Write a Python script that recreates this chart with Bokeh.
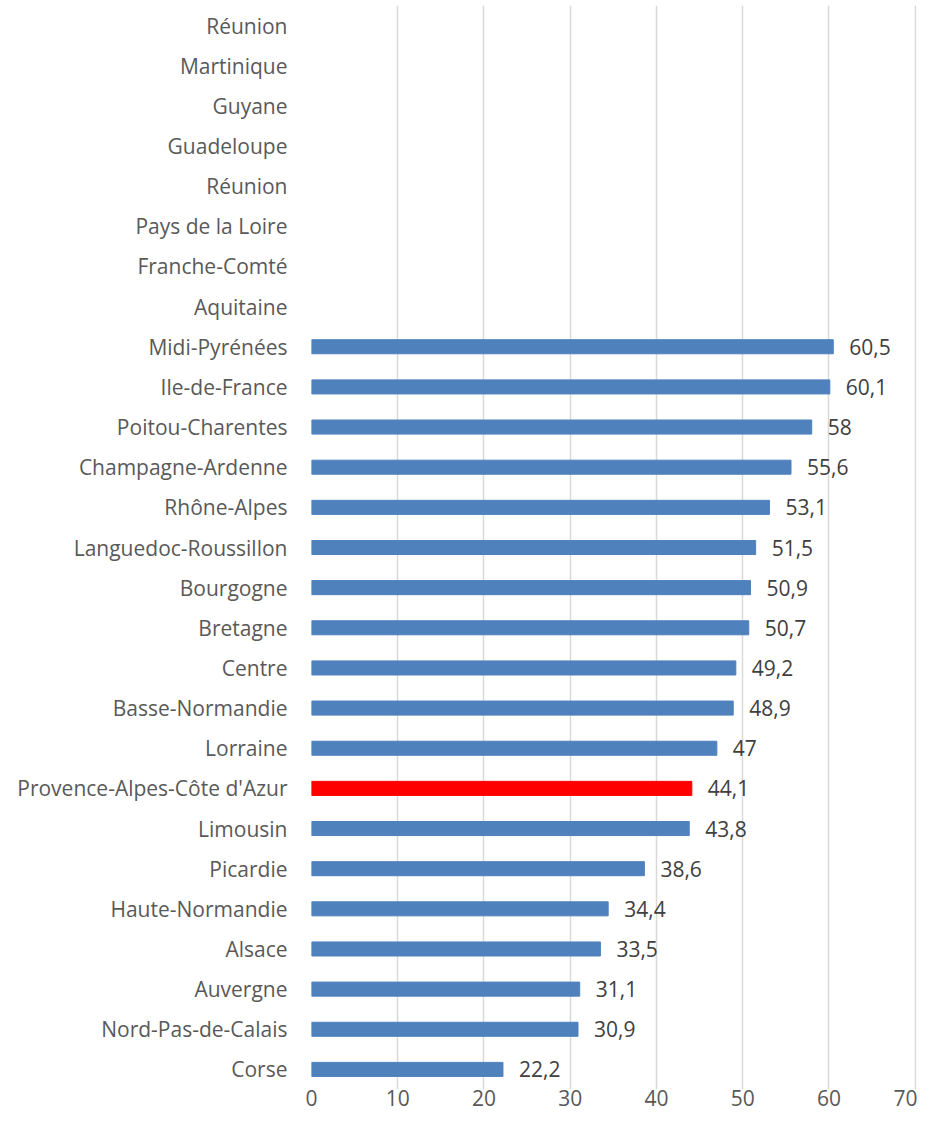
from bokeh.plotting import figure
from bokeh.models import ColumnDataSource, Range1d, FixedTicker
from bokeh.core.properties import value
from bokeh.embed import file_html
from bokeh.resources import INLINE

# Categories listed bottom to top
regions = [
    "Corse", "Nord-Pas-de-Calais", "Auvergne", "Alsace", "Haute-Normandie",
    "Picardie", "Limousin", "Provence-Alpes-Côte d'Azur", "Lorraine",
    "Basse-Normandie", "Centre", "Bretagne", "Bourgogne",
    "Languedoc-Roussillon", "Rhône-Alpes", "Champagne-Ardenne",
    "Poitou-Charentes", "Ile-de-France", "Midi-Pyrénées", "Aquitaine",
    "Franche-Comté", "Pays de la Loire", "Réunion", "Guadeloupe", "Guyane",
    "Martinique", "Réunion",
]
values = [
    22.2, 30.9, 31.1, 33.5, 34.4, 38.6, 43.8, 44.1, 47, 48.9, 49.2, 50.7,
    50.9, 51.5, 53.1, 55.6, 58, 60.1, 60.5,
    None, None, None, None, None, None, None, None,
]
highlight = "Provence-Alpes-Côte d'Azur"
x_ticks = [0, 10, 20, 30, 40, 50, 60, 70]

BLUE = "#4F81BD"
RED = "#FF0000"
FONT = "Open Sans"

ys, xs, cols, labels = [], [], [], []
for i, (r, v) in enumerate(zip(regions, values)):
    if v is None:
        continue
    ys.append(i)
    xs.append(v)
    cols.append(RED if r == highlight else BLUE)
    labels.append(("%g" % v).replace(".", ","))

src = ColumnDataSource(dict(y=ys, x=xs, color=cols, label=labels))

n = len(regions)
p = figure(
    width=917, height=1117,
    output_backend="svg", toolbar_location=None,
    x_range=Range1d(0, 70.15),
    y_range=Range1d(-0.5, n - 0.5),
    min_border_left=311, min_border_right=1,
    min_border_top=5, min_border_bottom=28,
)
p.outline_line_color = None
p.background_fill_color = "white"
p.border_fill_color = "white"

p.hbar(y="y", right="x", left=0, height=0.35, color="color", source=src)
p.text(x="x", y="y", text="label", source=src, x_offset=16,
       text_baseline="middle", text_align="left",
       text_font=value(FONT), text_font_size="21px", text_color="#404040")

# x axis
p.xaxis.ticker = FixedTicker(ticks=x_ticks)
p.xaxis.axis_line_color = None
p.xaxis.major_tick_line_color = None
p.xaxis.major_tick_in = 0
p.xaxis.major_tick_out = 0
p.xaxis.minor_tick_line_color = None
p.xaxis.major_label_standoff = 0
p.xaxis.major_label_text_font = FONT
p.xaxis.major_label_text_font_size = "21px"
p.xaxis.major_label_text_color = "#595959"

# y axis
p.yaxis.ticker = FixedTicker(ticks=list(range(n)))
p.yaxis.major_label_overrides = {i: r for i, r in enumerate(regions)}
p.yaxis.axis_line_color = None
p.yaxis.major_tick_line_color = None
p.yaxis.major_tick_out = 0
p.yaxis.minor_tick_line_color = None
p.yaxis.major_label_standoff = 24
p.yaxis.major_label_text_font = FONT
p.yaxis.major_label_text_font_size = "21px"
p.yaxis.major_label_text_color = "#595959"

p.xgrid.grid_line_color = "#D9D9D9"
p.xgrid.grid_line_width = 1.5
p.ygrid.grid_line_color = None

open("out.html", "w").write(file_html(p, INLINE))
